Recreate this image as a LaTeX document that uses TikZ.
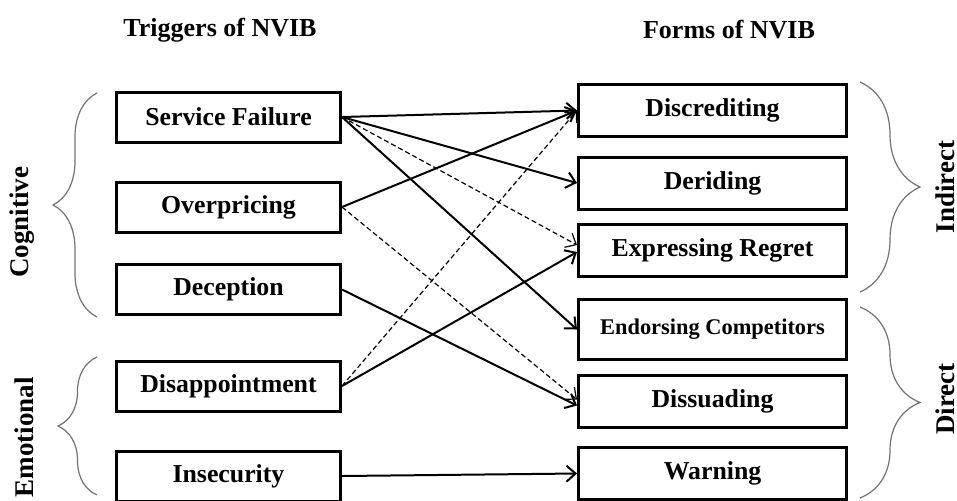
\documentclass[tikz,border=0pt]{standalone}
\usepackage{fontspec}
\setmainfont{Liberation Serif}
\usetikzlibrary{arrows.meta, positioning, decorations.pathreplacing}

\begin{document}
\begin{tikzpicture}[x=0.5pt, y=-0.5pt, on grid,
    box/.style={draw, line width=1.5pt, inner sep=2pt, font=\fontsize{12.9}{15}\selectfont\bfseries},
    trig/.style={box, minimum width=112pt, minimum height=25pt},
    form/.style={box, minimum width=134pt, minimum height=26pt},
    link/.style={-{Straight Barb[length=4.5pt,width=8pt]}, line width=1pt},
    weak/.style={-{Straight Barb[length=4.5pt,width=8pt]}, line width=0.6pt, dash pattern=on 2.5pt off 1.5pt},
    group/.style={decorate, decoration={brace, amplitude=#1}, draw=black!55, line width=0.6pt},
    side/.style={rotate=90, inner sep=0pt, font=\fontsize{13.5}{16}\selectfont\bfseries},
    head/.style={font=\fontsize{13}{16}\selectfont\bfseries}]
\useasboundingbox (0,0) rectangle (957,500);

% headings
\node[head] (lhead) at (220,30) {Triggers of NVIB};
\node[head] (rhead) at (729,30) {Forms of NVIB};

% triggers
\node[trig] (sf) at (228.5,117) {Service Failure};
\node[trig, below=45pt of sf] (op) {Overpricing};
\node[trig, below=41.25pt of op] (dec) {Deception};
\node[trig, below=48.25pt of dec] (dis) {Disappointment};
\node[trig, below=45pt of dis] (ins) {Insecurity};

% forms
\node[form] (disc) at (712.5,110.5) {Discrediting};
\node[form, below=36.25pt of disc] (der) {Deriding};
\node[form, below=33.5pt of der] (reg) {Expressing Regret};
\node[form, below=39.75pt of reg, minimum height=30pt,
      font=\fontsize{11.2}{13}\selectfont\bfseries] (endo) {Endorsing Competitors};
\node[form, below=36pt of endo] (dsd) {Dissuading};
\node[form, below=36pt of dsd] (warn) {Warning};

% groups
\draw[group=22pt] (97,317) -- (97,93);
\draw[group=19.5pt] (97,495) -- (97,357);
\draw[group=30pt] (860,82) -- (860,292);
\draw[group=30pt] (860,307) -- (860,498);
\node[side] (cog) at (22,222) {Cognitive};
\node[side] (emo) at (24,437) {Emotional};
\node[side] (ind) at (945,187) {Indirect};
\node[side] (dir) at (945,399) {Direct};

% links
\path (sf.east) edge[link] (disc.west)
      (sf.east) edge[link] (der.west)
      (sf.east) edge[weak] ([yshift=2.5pt]reg.west)
      (sf.east) edge[link] (endo.west)
      (op.east) edge[link] (disc.west)
      (op.east) edge[weak] ([yshift=1pt]dsd.west)
      (dec.east) edge[link] ([yshift=-2pt]dsd.west)
      (dis.east) edge[link] ([yshift=-1pt]reg.west)
      (dis.east) edge[weak] (disc.west)
      (ins.east) edge[link] (warn.west);

\end{tikzpicture}
\end{document}
